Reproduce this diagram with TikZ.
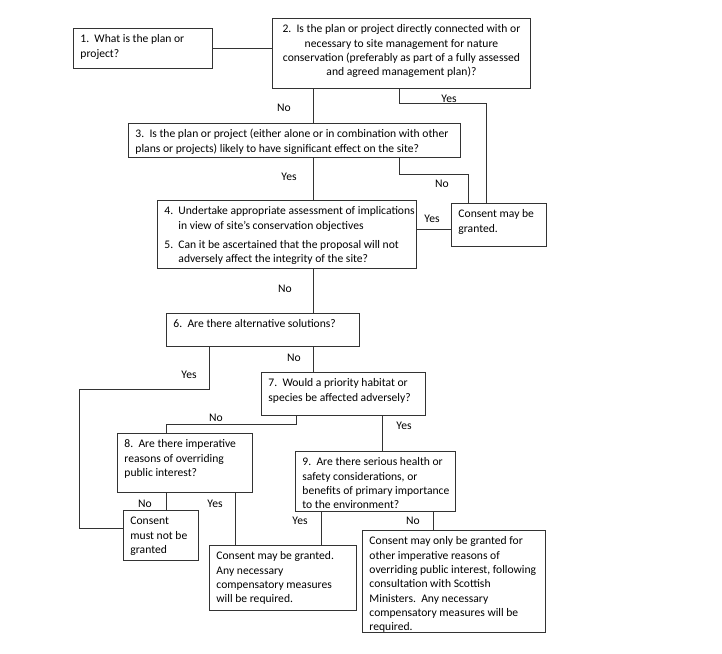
\documentclass[tikz,border=0pt]{standalone}
\usepackage{fontspec}
\setmainfont{Carlito}
\newcommand{\bt}[3]{\parbox[t][\dimexpr#2pt-9pt\relax][t]{\dimexpr#1pt-14pt\relax}{\raggedright\strut#3}}
\newcommand{\btc}[3]{\parbox[t][\dimexpr#2pt-9pt\relax][t]{\dimexpr#1pt-14pt\relax}{\centering\strut#3}}
\begin{document}
\begin{tikzpicture}[x=1pt,y=-1pt,
  bx/.style={draw=black!80, line width=0.9pt, inner xsep=7pt, inner ysep=4.5pt, anchor=north west,
    font=\fontsize{11.6}{14.3}\selectfont, text=black},
  ln/.style={draw=black!80, line width=0.9pt},
  lbl/.style={font=\fontsize{11.6}{14.3}\selectfont, text=black, inner sep=0pt}]
\useasboundingbox (0,0) rectangle (722,653);

\node[bx] (b1) at (73,28) {\bt{139}{40}{\mbox{1.\ \ What is the plan or}\\\mbox{project?}}};
\node[bx] (b2) at (272,18) {\btc{258}{70}{\mbox{2.\ \ Is the plan or project directly connected with or}\\\mbox{necessary to site management for nature}\\\mbox{conservation (preferably as part of a fully assessed}\\\mbox{and agreed management plan)?}}};
\node[bx] (b3) at (128,123) {\bt{332}{34}{\mbox{3.\ \ Is the plan or project (either alone or in combination with other}\\\mbox{plans or projects) likely to have significant effect on the site?}}};
\node[bx] (b4) at (157,200) {\bt{259}{68}{\mbox{\makebox[14pt][l]{4.}Undertake appropriate assessment of implications}\\\mbox{\hspace*{14pt}in view of site’s conservation objectives}\\[4.5pt]\mbox{\makebox[14pt][l]{5.}Can it be ascertained that the proposal will not}\\\mbox{\hspace*{14pt}adversely affect the integrity of the site?}}};
\node[bx] (cmg) at (451,203) {\bt{95}{43}{\mbox{Consent may be}\\\mbox{granted.}}};
\node[bx] (b6) at (166,313) {\bt{193}{33}{\mbox{6.\ \ Are there alternative solutions?}}};
\node[bx] (b7) at (261,372) {\bt{164}{43}{\mbox{7.\ \ Would a priority habitat or}\\\mbox{species be affected adversely?}}};
\node[bx] (b8) at (117,433) {\bt{135}{59}{\mbox{8.\ \ Are there imperative}\\\mbox{reasons of overriding}\\\mbox{public interest?}}};
\node[bx] (b9) at (295,451) {\bt{160}{60}{\mbox{9.\ \ Are there serious health or}\\\mbox{safety considerations, or}\\\mbox{benefits of primary importance}\\\mbox{to the environment?}}};
\node[bx] (cmn) at (123,510) {\bt{75}{50}{\mbox{Consent}\\\mbox{must not be}\\\mbox{granted}}};
\node[bx] (cmc) at (209,545) {\bt{147}{65}{\mbox{Consent may be granted.}\\\mbox{Any necessary}\\\mbox{compensatory measures}\\\mbox{will be required.}}};
\node[bx] (cmo) at (362,530) {\bt{183}{102}{\mbox{Consent may only be granted for}\\\mbox{other imperative reasons of}\\\mbox{overriding public interest, following}\\\mbox{consultation with Scottish}\\\mbox{Ministers.\ \ Any necessary}\\\mbox{compensatory measures will be}\\\mbox{required.}}};

\draw[ln] (b1.east) -- (b1.east -| b2.west);
\draw[ln] ([xshift=41pt]b2.south west) -- ([xshift=185pt]b3.north west);
\draw[ln] ([xshift=127pt]b2.south west) -- ++(0,15) -| ([xshift=35pt]cmg.north west);
\draw[ln] ([xshift=185pt]b3.south west) -- ([xshift=156pt]b4.north west);
\draw[ln] ([xshift=271pt]b3.south west) -- ++(0,17) -| ([xshift=17pt]cmg.north west);
\draw[ln] ([yshift=-4.5pt]cmg.west) -- ([yshift=-4.5pt]cmg.west -| b4.east);
\draw[ln] ([xshift=156pt]b4.south west) -- ([xshift=147pt]b6.north west);
\draw[ln] ([xshift=147pt]b6.south west) -- ([xshift=52pt]b7.north west);
\draw[ln] ([xshift=43pt]b6.south west) -- ++(0,43) -- ++(-130,0) |- ([yshift=7pt]cmn.west);
\draw[ln] ([xshift=35pt]b7.south west) -- ++(0,9) -| ([xshift=49pt]b8.north west);
\draw[ln] ([xshift=121pt]b7.south west) -- ([xshift=87pt]b9.north west);
\draw[ln] ([xshift=49pt]b8.south west) -- ([xshift=43pt]cmn.north west);
\draw[ln] ([xshift=118pt]b8.south west) -- ([xshift=26pt]cmc.north west);
\draw[ln] ([xshift=26pt]b9.south west) -- ([xshift=112pt]cmc.north west);
\draw[ln] ([xshift=138pt]b9.south west) -- ([xshift=71pt]cmo.north west);

\node[lbl] (l1) at (284,108) {No};
\node[lbl] (l2) at (449,99) {Yes};
\node[lbl] (l3) at (289,177) {Yes};
\node[lbl] (l4) at (442,184) {No};
\node[lbl] (l5) at (432,219) {Yes};
\node[lbl] (l6) at (285,289) {No};
\node[lbl] (l7) at (294,358) {No};
\node[lbl] (l8) at (189,375) {Yes};
\node[lbl] (l9) at (216,418) {No};
\node[lbl] (l10) at (404,426) {Yes};
\node[lbl] (l11) at (145,504) {No};
\node[lbl] (l12) at (215,504) {Yes};
\node[lbl] (l13) at (300,521) {Yes};
\node[lbl] (l14) at (413,521) {No};
\end{tikzpicture}
\end{document}
